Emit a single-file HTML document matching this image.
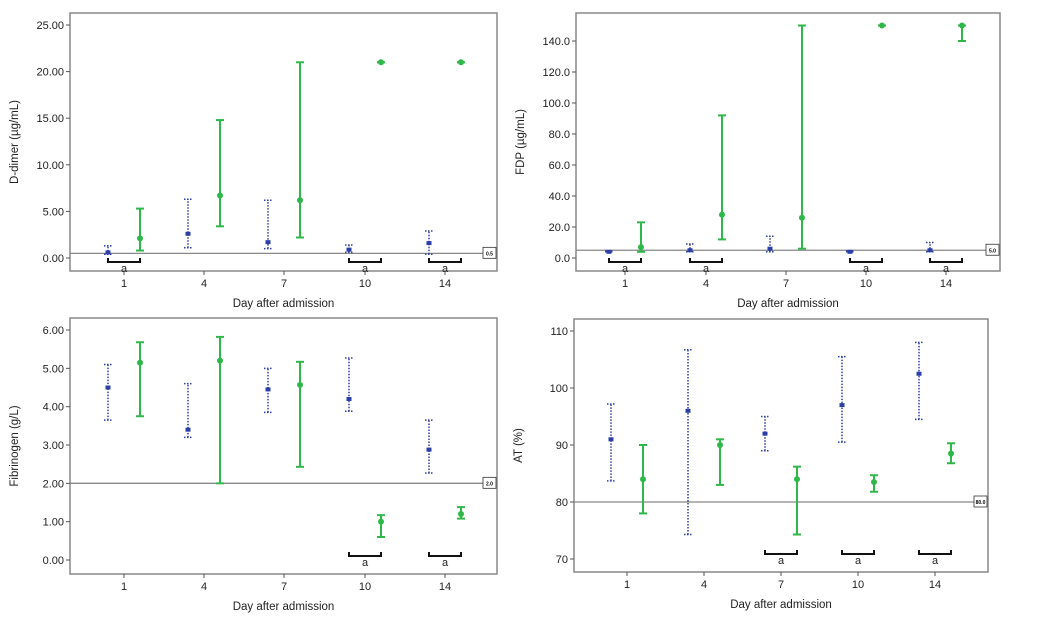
<!DOCTYPE html>
<html><head><meta charset="utf-8"><style>
body{margin:0;background:#fff;font-family:"Liberation Sans",sans-serif;}
svg text{font-family:"Liberation Sans",sans-serif;}
</style></head><body>
<svg id="s" width="1057" height="624" xmlns="http://www.w3.org/2000/svg"></svg>
<script>
const days=["1","4","7","10","14"];
// D-dimer
const ddBlueMed=[0.6,2.6,1.7,0.9,1.6], ddBlueLo=[0.4,1.1,1.0,0.6,0.4], ddBlueHi=[1.3,6.3,6.2,1.4,2.9];
const ddGreenMed=[2.1,6.7,6.2,21,21], ddGreenLo=[0.8,3.4,2.2,21,21], ddGreenHi=[5.3,14.8,21,21,21];
const ddTicks=[0,5,10,15,20,25];
// FDP
const fdpBlueMed=[4,5,6,4,5], fdpBlueLo=[4,4,4,4,4], fdpBlueHi=[4.5,9,14,4.5,10];
const fdpGreenMed=[7,28,26,150,150], fdpGreenLo=[4,12,6,150,140], fdpGreenHi=[23,92,150,150,150];
const fdpTicks=[0,20,40,60,80,100,120,140];
// Fibrinogen
const fbBlueMed=[4.5,3.4,4.45,4.2,2.88], fbBlueLo=[3.65,3.2,3.85,3.88,2.27], fbBlueHi=[5.1,4.6,5.0,5.27,3.65];
const fbGreenMed=[5.15,5.2,4.57,1.0,1.2], fbGreenLo=[3.75,2.0,2.43,0.6,1.08], fbGreenHi=[5.68,5.82,5.17,1.17,1.38];
const fbTicks=[0,1,2,3,4,5,6];
// AT
const atBlueMed=[91,96,92,97,102.5], atBlueLo=[83.7,74.3,89,90.5,94.5], atBlueHi=[97.2,106.7,95,105.5,108];
const atGreenMed=[84,90,84,83.5,88.5], atGreenLo=[78,83,74.3,81.8,86.8], atGreenHi=[90,91,86.2,84.7,90.3];
const atTicks=[70,80,90,100,110];

const S=document.getElementById('s');const NS="http://www.w3.org/2000/svg";
function mk(t,a,p){const e=document.createElementNS(NS,t);for(const k in a)e.setAttribute(k,a[k]);(p||S).appendChild(e);return e;}

function panel(o){
  const g=mk('g',{});
  
  
  const y=v=>o.y0+(v-o.v0)*(o.y1-o.y0)/(o.v1-o.v0);
  const x=i=>o.cx[i];
  const box=mk('rect',{x:o.L,y:o.T,width:o.R-o.L,height:o.B-o.T,fill:'none',stroke:'#888','stroke-width':1.5},g);
  
  o.ticks.forEach(t=>{
    const yy=y(t);
    mk('line',{x1:o.L-4,x2:o.L,y1:yy,y2:yy,stroke:'#555'},g);
    const tx=mk('text',{x:o.L-6,y:yy+4,'text-anchor':'end','font-size':11,fill:'#222'},g);
    tx.textContent=t.toFixed(o.dec);
    
  });
  days.forEach((d,i)=>{
    mk('line',{x1:x(i),x2:x(i),y1:o.B,y2:o.B+4,stroke:'#555'},g);
    const tx=mk('text',{x:x(i),y:o.B+16,'text-anchor':'middle','font-size':11,fill:'#222'},g);
    tx.textContent=d;
    
  });
  const xl=mk('text',{x:(o.L+o.R)/2,y:o.B+36,'text-anchor':'middle','font-size':11.5,fill:'#222'},g);
  xl.textContent='Day after admission';
  
  const yl=mk('text',{x:0,y:0,'text-anchor':'middle','font-size':11.5,fill:'#222',transform:`translate(${o.L-52},${(o.T+o.B)/2}) rotate(-90)`},g);
  yl.textContent=o.ylab;
  
  // reference line
  const ry=y(o.ref);
  const rl=mk('line',{x1:o.L,x2:o.R,y1:ry,y2:ry,stroke:'#888','stroke-width':1.3},g);
  
  mk('rect',{x:o.R-14,y:ry-6,width:13,height:11,fill:'#fff',stroke:'#333','stroke-width':0.8},g);
  const rt=mk('text',{x:o.R-7.5,y:ry+2,'text-anchor':'middle','font-size':5,'font-weight':'bold',fill:'#000'},g);
  rt.textContent=o.refLab;
  
  // series
  const ser=[[o.bm,o.bl,o.bh,-16,'#2b3fa6',true],[o.gm,o.gl,o.gh,16,'#2fb84a',false]];
  ser.forEach(([m,l,h,off,c,dot])=>{
    m.forEach((v,i)=>{
      const cx=x(i)+off;
      const e=mk('g',{},g);
      
      
      const sw=dot?1.5:2;const da=dot?'1.5,1.5':'none';
      mk('line',{x1:cx,x2:cx,y1:y(l[i]),y2:y(h[i]),stroke:c,'stroke-width':sw,'stroke-dasharray':da},e);
      [l[i],h[i]].forEach(w=>mk('line',{x1:cx-4,x2:cx+4,y1:y(w),y2:y(w),stroke:c,'stroke-width':sw,'stroke-dasharray':da},e));
      if(dot) mk('rect',{x:cx-2.5,y:y(v)-2,width:5,height:4,fill:c},e);
      else mk('circle',{cx:cx,cy:y(v),r:3,fill:c},e);
    });
  });
  o.br.forEach(i=>{
    const b=mk('g',{},g);
    
    const a=x(i)-16,c=x(i)+16,by=o.brY;
    mk('path',{d:`M${a} ${by-4}V${by}H${c}V${by-4}`,fill:'none',stroke:'#111','stroke-width':2},b);
    const t=mk('text',{x:x(i),y:by+10,'text-anchor':'middle','font-size':11,fill:'#222'},b);
    t.textContent='a';
  });
}
panel({name:'d-dimer-panel',L:70,R:497,T:13,B:271,y0:258,y1:25,v0:0,v1:25,ticks:ddTicks,dec:2,ylab:'D-dimer (µg/mL)',ref:0.5,refLab:'0.5',
  cx:[124,204,284,365,445],bm:ddBlueMed,bl:ddBlueLo,bh:ddBlueHi,gm:ddGreenMed,gl:ddGreenLo,gh:ddGreenHi,br:[0,3,4],brY:262});
panel({name:'fdp-panel',L:576,R:1000,T:13,B:271,y0:258,y1:41,v0:0,v1:140,ticks:fdpTicks,dec:1,ylab:'FDP (µg/mL)',ref:5,refLab:'5.0',
  cx:[625,706,786,866,946],bm:fdpBlueMed,bl:fdpBlueLo,bh:fdpBlueHi,gm:fdpGreenMed,gl:fdpGreenLo,gh:fdpGreenHi,br:[0,1,3,4],brY:262});
panel({name:'fibrinogen-panel',L:70,R:497,T:318,B:574,y0:560,y1:330,v0:0,v1:6,ticks:fbTicks,dec:2,ylab:'Fibrinogen (g/L)',ref:2,refLab:'2.0',
  cx:[124,204,284,365,445],bm:fbBlueMed,bl:fbBlueLo,bh:fbBlueHi,gm:fbGreenMed,gl:fbGreenLo,gh:fbGreenHi,br:[3,4],brY:556});
panel({name:'at-panel',L:574,R:988,T:319,B:572,y0:559,y1:331,v0:70,v1:110,ticks:atTicks,dec:0,ylab:'AT (%)',ref:80,refLab:'80.0',
  cx:[627,704,781,858,935],bm:atBlueMed,bl:atBlueLo,bh:atBlueHi,gm:atGreenMed,gl:atGreenLo,gh:atGreenHi,br:[2,3,4],brY:554});
</script>
</body></html>
